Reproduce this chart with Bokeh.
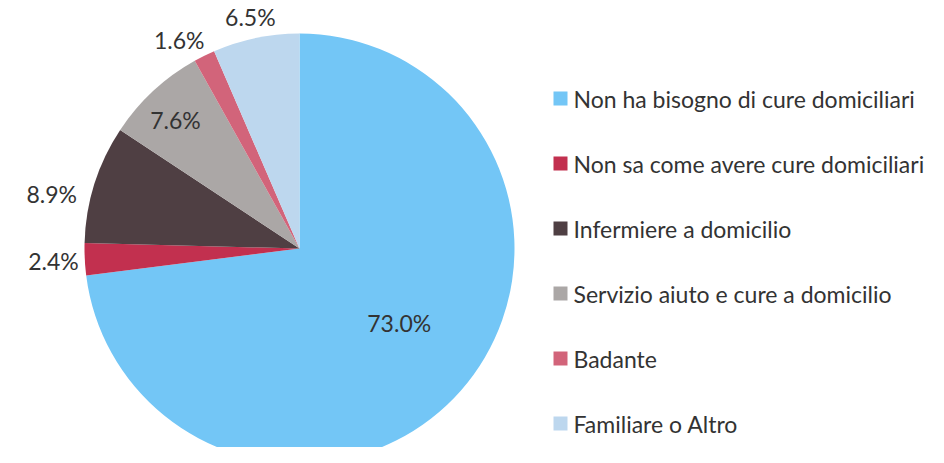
import math
from bokeh.plotting import figure
from bokeh.models import Range1d, ColumnDataSource
from bokeh.core.properties import value
from bokeh.embed import file_html
from bokeh.resources import INLINE

categories = ["Non ha bisogno di cure domiciliari", "Non sa come avere cure domiciliari",
              "Infermiere a domicilio", "Servizio aiuto e cure a domicilio",
              "Badante", "Familiare o Altro"]
values = [73.0, 2.4, 8.9, 7.6, 1.6, 6.5]
colors = ["#73C6F6", "#C2304F", "#4F3F43", "#ABA7A6", "#D2647A", "#BDD7EE"]

W, H = 928, 447
p = figure(width=W, height=H, output_backend="svg", toolbar_location=None,
           x_range=Range1d(0, W), y_range=Range1d(0, H), min_border=0)
p.axis.visible = False
p.grid.visible = False
p.outline_line_color = None
p.background_fill_color = "white"
p.border_fill_color = "white"

cx, cy, r = 299, H - 248, 215
total = sum(values)
starts, ends, mids = [], [], []
acc = 0.0
for v in values:
    a0 = math.pi / 2 - 2 * math.pi * acc / total
    acc += v
    a1 = math.pi / 2 - 2 * math.pi * acc / total
    starts.append(a0)
    ends.append(a1)
    mids.append((a0 + a1) / 2)

src = ColumnDataSource(dict(start=starts, end=ends, color=colors))
p.wedge(x=cx, y=cy, radius=r, start_angle="start", end_angle="end", direction="clock",
        fill_color="color", line_color=None, source=src)

# value labels (placement style: radius factor and small angular nudge)
rf = [0.58, 1.146, 1.18, 0.83, 1.12, 1.10]
da = [4.5, 0.0, 5.0, 1.2, 3.7, 0.3]
lx = [cx + f * r * math.cos(m + math.radians(d)) for f, m, d in zip(rf, mids, da)]
ly = [cy + f * r * math.sin(m + math.radians(d)) for f, m, d in zip(rf, mids, da)]
labels = [f"{v:.1f}%" for v in values]
p.text(x=lx, y=ly, text=labels, text_align="center", text_baseline="middle",
       text_font=value("Lato"), text_font_size="23px", text_color="#333333")

# legend
leg_y = [H - (98 + 65 * i) for i in range(len(categories))]
p.rect(x=[560] * len(categories), y=leg_y, width=14, height=14, fill_color=colors, line_color=None)
p.text(x=[573] * len(categories), y=leg_y, text=categories, text_align="left",
       text_baseline="middle", text_font=value("Lato"), text_font_size="23px",
       text_color="#333333")

open("out.html", "w").write(file_html(p, INLINE))
